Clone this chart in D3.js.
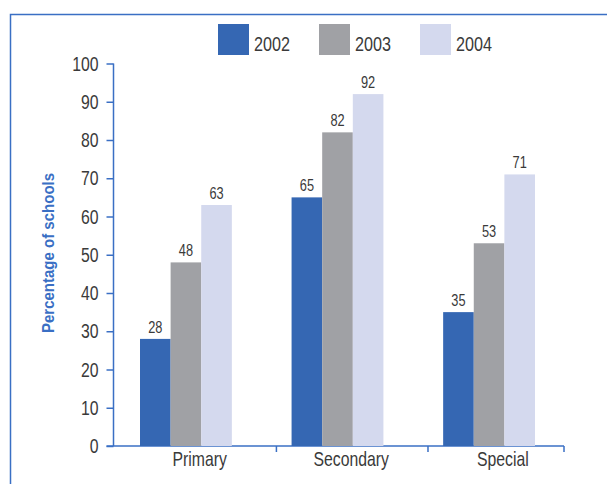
<!DOCTYPE html>
<html>
<head>
<meta charset="utf-8">
<script src="https://cdn.jsdelivr.net/npm/d3@7"></script>
<style>
  body { margin: 0; background: #fff; }
  svg text { font-family: "Liberation Sans", Arial, sans-serif; fill: #3a3a3a; }
</style>
</head>
<body>
<svg id="chart_svg"></svg>
<script>
// Chart data
var categories = ['Primary', 'Secondary', 'Special'];
var years = ['2002', '2003', '2004'];
var values2002 = [28, 65, 35];
var values2003 = [48, 82, 53];
var values2004 = [63, 92, 71];
var yTicks = [0, 10, 20, 30, 40, 50, 60, 70, 80, 90, 100];

var seriesValues = [values2002, values2003, values2004];
var colours = ['#3567b3', '#a0a1a5', '#d4d9ee'];
var axisBlue = '#3a6fc4';
var squeeze = 0.77;   // the reference uses a condensed face

var width = 607, height = 484;

var base = d3.select('#chart_svg')
    .attr('width', width)
    .attr('height', height);

// Squash text horizontally, keeping its anchor point where it was
function condense(sel, sx) {
    sel.each(function() {
        var t = d3.select(this);
        var x = +(t.attr('x') || 0);
        t.attr('x', x / sx)
         .attr('transform', 'scale(' + sx + ',1)');
    });
}

// Frame (top and left edges visible, rest runs off the picture)
base.append('rect')
    .attr('x', 10.5).attr('y', 14.5)
    .attr('width', 640).attr('height', 520)
    .attr('fill', 'none')
    .attr('stroke', axisBlue)
    .attr('stroke-width', 1.5);

// Scales
var x0 = d3.scaleBand()
    .domain(categories)
    .range([140, 535])
    .paddingInner(0.394)
    .paddingOuter(0);

var x1 = d3.scaleBand()
    .domain(years)
    .range([0, x0.bandwidth()])
    .padding(0);

var y = d3.scaleLinear()
    .domain([0, 100])
    .range([446, 63.5]);

var axisX = 113.5;
var axisEnd = x0(categories[categories.length - 1]) + x0.bandwidth() + 29;

// Y axis
var yAxis = d3.axisLeft(y)
    .tickValues(yTicks)
    .tickSize(7)
    .tickPadding(8)
    .tickFormat(d3.format('d'));

var yg = base.append('g')
    .attr('transform', 'translate(' + axisX + ',0)')
    .call(yAxis);
yg.select('.domain').remove();
yg.append('line')
    .attr('x1', 0).attr('x2', 0)
    .attr('y1', y(100)).attr('y2', y(0))
    .attr('stroke', axisBlue).attr('stroke-width', 1.5);
yg.selectAll('.tick line').attr('stroke', axisBlue).attr('stroke-width', 1.5);
yg.selectAll('.tick text')
    .attr('font-size', '20.5px')
    .attr('fill', '#3a3a3a')
    .attr('font-family', null)
    .call(condense, squeeze);

// X axis line and ticks
var xg = base.append('g');
xg.append('line')
    .attr('x1', axisX - 7).attr('x2', axisEnd)
    .attr('y1', y(0)).attr('y2', y(0))
    .attr('stroke', axisBlue).attr('stroke-width', 1.5);
xg.selectAll('.xtick')
    .data(categories)
    .enter()
    .append('line')
    .attr('class', 'xtick')
    .attr('x1', function(d) { return Math.min(x0(d) + x0.step() * 0.9, axisEnd); })
    .attr('x2', function(d) { return Math.min(x0(d) + x0.step() * 0.9, axisEnd); })
    .attr('y1', y(0)).attr('y2', y(0) + 6)
    .attr('stroke', axisBlue).attr('stroke-width', 1.5);
xg.selectAll('.xlabel')
    .data(categories)
    .enter()
    .append('text')
    .attr('class', 'xlabel')
    .attr('x', function(d) { return x0(d) + x0.bandwidth() * 0.65; })
    .attr('y', 466)
    .attr('text-anchor', 'middle')
    .attr('font-size', '20.5px')
    .text(function(d) { return d; })
    .call(condense, squeeze);

// Y axis title
base.append('text')
    .attr('transform', 'translate(54,253) rotate(-90) scale(0.91,1)')
    .attr('text-anchor', 'middle')
    .attr('font-size', '16.5px')
    .attr('font-weight', 'bold')
    .style('fill', axisBlue)
    .text('Percentage of schools');

// Bars
var bars = [];
categories.forEach(function(cat, i) {
    years.forEach(function(yr, j) {
        bars.push({cat: cat, year: yr, value: seriesValues[j][i], idx: j});
    });
});

var barsHolder = base.append('g').attr('id', 'bars_holder');
barsHolder.selectAll('rect')
    .data(bars)
    .enter()
    .append('rect')
    .attr('x', function(d) { return x0(d.cat) + x1(d.year); })
    .attr('y', function(d) { return y(d.value); })
    .attr('width', x1.bandwidth())
    .attr('height', function(d) { return y(0) - y(d.value); })
    .attr('fill', function(d) { return colours[d.idx]; });

barsHolder.selectAll('text')
    .data(bars)
    .enter()
    .append('text')
    .attr('x', function(d) { return x0(d.cat) + x1(d.year) + x1.bandwidth() / 2; })
    .attr('y', function(d) { return y(d.value) - 6; })
    .attr('text-anchor', 'middle')
    .attr('font-size', '16px')
    .text(function(d) { return d.value; })
    .call(condense, 0.8);

// Legend
var legend = base.append('g').attr('id', 'legend');
var legendItems = legend.selectAll('g')
    .data(years)
    .enter()
    .append('g')
    .attr('transform', function(d, i) { return 'translate(' + (218 + i * 101) + ',24)'; });
legendItems.append('rect')
    .attr('width', 31).attr('height', 31)
    .attr('fill', function(d, i) { return colours[i]; });
legendItems.append('text')
    .attr('x', 36).attr('y', 27)
    .attr('font-size', '21px')
    .text(function(d) { return d; })
    .call(condense, squeeze);
</script>
</body>
</html>
